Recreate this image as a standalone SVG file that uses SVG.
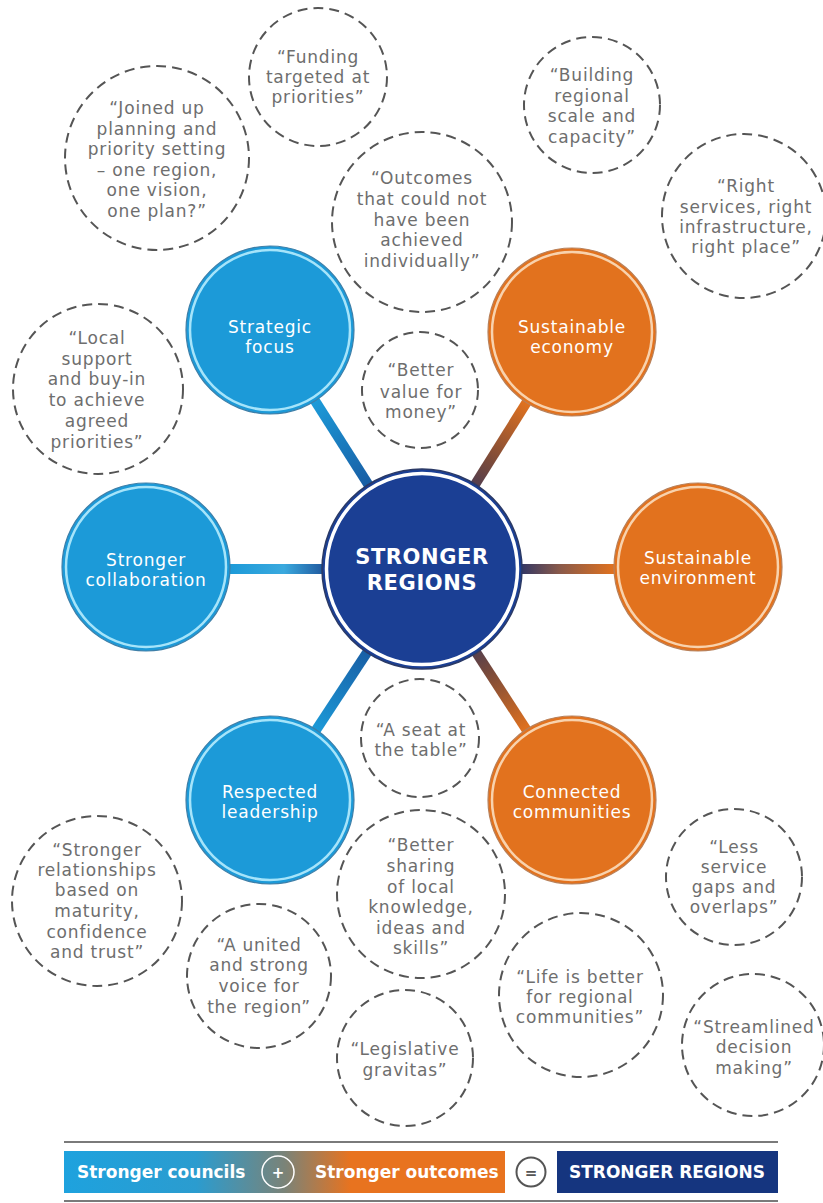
<svg xmlns="http://www.w3.org/2000/svg" width="823" height="1203" viewBox="0 0 823 1203">
  <defs>
    <style>
      .quote circle { fill: none; stroke: #555; stroke-width: 2; stroke-dasharray: 10 6; }
      .quote text { font-family: "DejaVu Sans", sans-serif; font-size: 17px; letter-spacing: 0.8px; fill: #6e6e6e; text-anchor: middle; }
      .node text { font-family: "DejaVu Sans", sans-serif; font-size: 17px; letter-spacing: 0.8px; fill: #ffffff; text-anchor: middle; }
      .blue .disc { fill: #1c9ad8; stroke: #3f7fa8; stroke-width: 1.2; }
      .blue .ring { fill: none; stroke: #a6e4fa; stroke-width: 2.5; }
      .orange .disc { fill: #e2721e; stroke: #b8805a; stroke-width: 1.2; }
      .orange .ring { fill: none; stroke: #f8d2ad; stroke-width: 2.5; }
      .hub .disc { fill: #1b3f94; stroke: #2b3a66; stroke-width: 1.5; }
      .hub .ring { fill: none; stroke: #ffffff; stroke-width: 3.5; }
      .hub text { font-family: "DejaVu Sans", sans-serif; font-size: 21px; font-weight: bold; letter-spacing: 0.6px; fill: #ffffff; text-anchor: middle; }
      .link { stroke-width: 10; fill: none; }
      .legend text { font-family: "DejaVu Sans", sans-serif; font-size: 17px; font-weight: bold; fill: #ffffff; }
    </style>
    <linearGradient id="gStrategic" gradientUnits="userSpaceOnUse" x1="270" y1="330" x2="422" y2="569">
      <stop offset="0.3" stop-color="#1c9ad8"/>
      <stop offset="0.85" stop-color="#163a86"/>
    </linearGradient>
    <linearGradient id="gCollab" gradientUnits="userSpaceOnUse" x1="146" y1="0" x2="422" y2="0">
      <stop offset="0.3" stop-color="#1c9ad8"/>
      <stop offset="0.5" stop-color="#3aa9de"/>
      <stop offset="0.7" stop-color="#163a86"/>
    </linearGradient>
    <linearGradient id="gLeader" gradientUnits="userSpaceOnUse" x1="270" y1="800" x2="422" y2="569">
      <stop offset="0.3" stop-color="#1c9ad8"/>
      <stop offset="0.85" stop-color="#163a86"/>
    </linearGradient>
    <linearGradient id="gEconomy" gradientUnits="userSpaceOnUse" x1="572" y1="330" x2="422" y2="569">
      <stop offset="0.3" stop-color="#e2721e"/>
      <stop offset="0.55" stop-color="#7a4a3a"/>
      <stop offset="0.8" stop-color="#1a2d6c"/>
    </linearGradient>
    <linearGradient id="gEnviron" gradientUnits="userSpaceOnUse" x1="698" y1="0" x2="422" y2="0">
      <stop offset="0.3" stop-color="#e2721e"/>
      <stop offset="0.5" stop-color="#8a5a4a"/>
      <stop offset="0.68" stop-color="#1a2d6c"/>
    </linearGradient>
    <linearGradient id="gConnect" gradientUnits="userSpaceOnUse" x1="572" y1="800" x2="422" y2="569">
      <stop offset="0.3" stop-color="#e2721e"/>
      <stop offset="0.55" stop-color="#7a4a3a"/>
      <stop offset="0.8" stop-color="#1a2d6c"/>
    </linearGradient>
    <linearGradient id="gLegend" gradientUnits="userSpaceOnUse" x1="64" y1="0" x2="505" y2="0">
      <stop offset="0" stop-color="#1ea2de"/>
      <stop offset="0.3" stop-color="#2b9ccf"/>
      <stop offset="0.5" stop-color="#7a8378"/>
      <stop offset="0.65" stop-color="#e8731f"/>
      <stop offset="1" stop-color="#e8731f"/>
    </linearGradient>
  </defs>

  <rect x="0" y="0" width="823" height="1203" fill="#ffffff"/>

  <!-- connectors from the hub to each pillar -->
  <g id="connectors">
    <line class="link" x1="270" y1="330" x2="422" y2="569" stroke="url(#gStrategic)"/>
    <line class="link" x1="146" y1="569" x2="422" y2="569" stroke="url(#gCollab)"/>
    <line class="link" x1="270" y1="800" x2="422" y2="569" stroke="url(#gLeader)"/>
    <line class="link" x1="572" y1="330" x2="422" y2="569" stroke="url(#gEconomy)"/>
    <line class="link" x1="698" y1="569" x2="422" y2="569" stroke="url(#gEnviron)"/>
    <line class="link" x1="572" y1="800" x2="422" y2="569" stroke="url(#gConnect)"/>
  </g>

  <!-- hub -->
  <g id="hub" class="hub">
    <circle class="disc" cx="422" cy="569" r="100"/>
    <circle class="ring" cx="422" cy="569" r="95.5"/>
    <text x="422" y="564">STRONGER</text>
    <text x="422" y="590">REGIONS</text>
  </g>

  <!-- pillars: councils (blue) -->
  <g id="strategic-focus" class="node blue">
    <circle class="disc" cx="270" cy="330" r="84"/>
    <circle class="ring" cx="270" cy="330" r="80"/>
    <text x="270" y="333">Strategic</text>
    <text x="270" y="353">focus</text>
  </g>
  <g id="stronger-collaboration" class="node blue">
    <circle class="disc" cx="146" cy="567" r="84"/>
    <circle class="ring" cx="146" cy="567" r="80"/>
    <text x="146" y="566">Stronger</text>
    <text x="146" y="586">collaboration</text>
  </g>
  <g id="respected-leadership" class="node blue">
    <circle class="disc" cx="270" cy="800" r="84"/>
    <circle class="ring" cx="270" cy="800" r="80"/>
    <text x="270" y="798">Respected</text>
    <text x="270" y="818">leadership</text>
  </g>

  <!-- pillars: outcomes (orange) -->
  <g id="sustainable-economy" class="node orange">
    <circle class="disc" cx="572" cy="332" r="84"/>
    <circle class="ring" cx="572" cy="332" r="80"/>
    <text x="572" y="333">Sustainable</text>
    <text x="572" y="353">economy</text>
  </g>
  <g id="sustainable-environment" class="node orange">
    <circle class="disc" cx="698" cy="567" r="84"/>
    <circle class="ring" cx="698" cy="567" r="80"/>
    <text x="698" y="564">Sustainable</text>
    <text x="698" y="584">environment</text>
  </g>
  <g id="connected-communities" class="node orange">
    <circle class="disc" cx="572" cy="800" r="84"/>
    <circle class="ring" cx="572" cy="800" r="80"/>
    <text x="572" y="798">Connected</text>
    <text x="572" y="818">communities</text>
  </g>

  <!-- quotes -->
  <g id="q-funding" class="quote">
    <circle cx="318" cy="77" r="69"/>
    <text x="318" y="63">“Funding</text>
    <text x="318" y="83">targeted at</text>
    <text x="318" y="103">priorities”</text>
  </g>
  <g id="q-joined" class="quote">
    <circle cx="157" cy="158" r="92"/>
    <text x="157" y="114">“Joined up</text>
    <text x="157" y="134.5">planning and</text>
    <text x="157" y="155">priority setting</text>
    <text x="157" y="175.5">– one region,</text>
    <text x="157" y="196">one vision,</text>
    <text x="157" y="216.5">one plan?”</text>
  </g>
  <g id="q-building" class="quote">
    <circle cx="592" cy="105" r="68"/>
    <text x="592" y="81">“Building</text>
    <text x="592" y="102">regional</text>
    <text x="592" y="122">scale and</text>
    <text x="592" y="143">capacity”</text>
  </g>
  <g id="q-right" class="quote">
    <circle cx="744" cy="216" r="82"/>
    <text x="746" y="192">“Right</text>
    <text x="746" y="213">services, right</text>
    <text x="746" y="233">infrastructure,</text>
    <text x="746" y="253">right place”</text>
  </g>
  <g id="q-outcomes" class="quote">
    <circle cx="422" cy="222" r="90"/>
    <text x="422" y="184">“Outcomes</text>
    <text x="422" y="205">that could not</text>
    <text x="422" y="226">have been</text>
    <text x="422" y="246">achieved</text>
    <text x="422" y="267">individually”</text>
  </g>
  <g id="q-value" class="quote">
    <circle cx="420" cy="390" r="58"/>
    <text x="421" y="376">“Better</text>
    <text x="421" y="398">value for</text>
    <text x="421" y="418">money”</text>
  </g>
  <g id="q-local" class="quote">
    <circle cx="98" cy="389" r="85"/>
    <text x="97" y="344">“Local</text>
    <text x="97" y="365">support</text>
    <text x="97" y="385">and buy-in</text>
    <text x="97" y="406">to achieve</text>
    <text x="97" y="427">agreed</text>
    <text x="97" y="448">priorities”</text>
  </g>
  <g id="q-seat" class="quote">
    <circle cx="420" cy="738" r="59"/>
    <text x="421" y="736">“A seat at</text>
    <text x="421" y="756">the table”</text>
  </g>
  <g id="q-sharing" class="quote">
    <circle cx="421" cy="894" r="84"/>
    <text x="421" y="851">“Better</text>
    <text x="421" y="872">sharing</text>
    <text x="421" y="893">of local</text>
    <text x="421" y="913">knowledge,</text>
    <text x="421" y="934">ideas and</text>
    <text x="421" y="954">skills”</text>
  </g>
  <g id="q-relationships" class="quote">
    <circle cx="97" cy="901" r="85"/>
    <text x="97" y="856">“Stronger</text>
    <text x="97" y="876">relationships</text>
    <text x="97" y="896">based on</text>
    <text x="97" y="917">maturity,</text>
    <text x="97" y="938">confidence</text>
    <text x="97" y="958">and trust”</text>
  </g>
  <g id="q-united" class="quote">
    <circle cx="259" cy="976" r="72"/>
    <text x="259" y="951">“A united</text>
    <text x="259" y="971">and strong</text>
    <text x="259" y="992">voice for</text>
    <text x="259" y="1013">the region”</text>
  </g>
  <g id="q-legislative" class="quote">
    <circle cx="405" cy="1058" r="68"/>
    <text x="405" y="1055">“Legislative</text>
    <text x="405" y="1076">gravitas”</text>
  </g>
  <g id="q-less" class="quote">
    <circle cx="734" cy="877" r="68"/>
    <text x="734" y="853">“Less</text>
    <text x="734" y="873">service</text>
    <text x="734" y="893">gaps and</text>
    <text x="734" y="913">overlaps”</text>
  </g>
  <g id="q-life" class="quote">
    <circle cx="581" cy="995" r="82"/>
    <text x="580" y="983">“Life is better</text>
    <text x="580" y="1003">for regional</text>
    <text x="580" y="1023">communities”</text>
  </g>
  <g id="q-streamlined" class="quote">
    <circle cx="753" cy="1045" r="71"/>
    <text x="754" y="1033">“Streamlined</text>
    <text x="754" y="1053">decision</text>
    <text x="754" y="1074">making”</text>
  </g>

  <!-- legend: councils + outcomes = regions -->
  <g id="legend" class="legend">
    <line x1="64" y1="1142" x2="778" y2="1142" stroke="#7a7a7a" stroke-width="2"/>
    <line x1="64" y1="1201" x2="778" y2="1201" stroke="#7a7a7a" stroke-width="2"/>
    <rect x="64" y="1151" width="441" height="42" fill="url(#gLegend)"/>
    <rect x="557" y="1151" width="221" height="42" fill="#15357f"/>
    <text x="77" y="1178">Stronger councils</text>
    <circle cx="278" cy="1172" r="16" fill="none" stroke="#ffffff" stroke-width="1.5"/>
    <text x="278" y="1178" text-anchor="middle" style="font-size:15px">+</text>
    <text x="315" y="1178">Stronger outcomes</text>
    <circle cx="531" cy="1172" r="14.5" fill="none" stroke="#555555" stroke-width="2"/>
    <text x="531" y="1177.5" text-anchor="middle" style="font-size:15px;fill:#555555">=</text>
    <text x="667" y="1178" text-anchor="middle">STRONGER REGIONS</text>
  </g>
</svg>
